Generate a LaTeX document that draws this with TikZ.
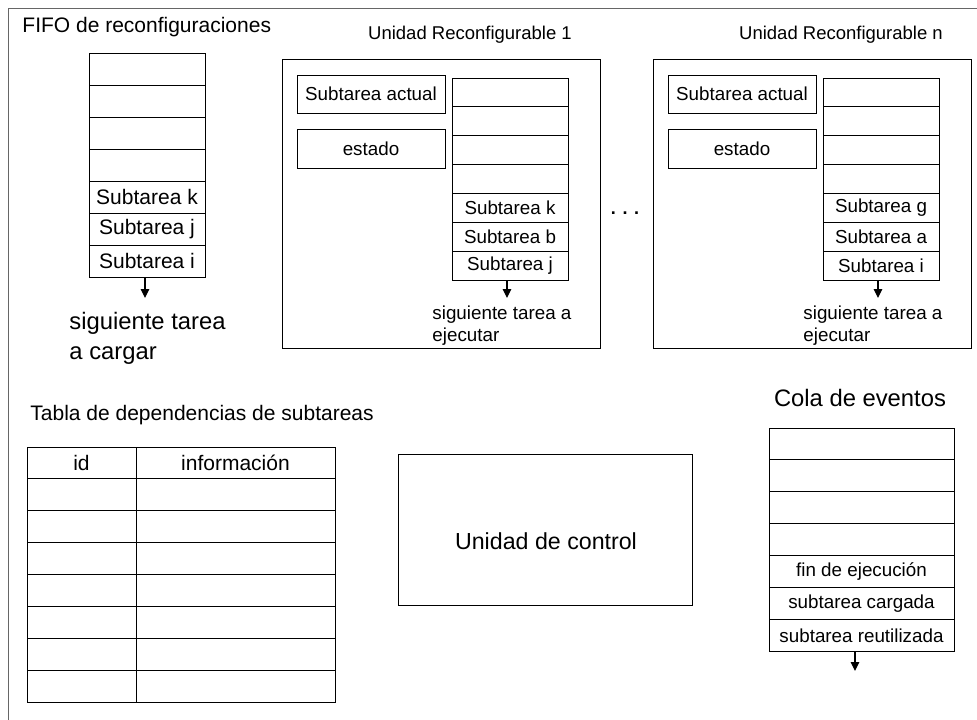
\documentclass[tikz,border=0pt]{standalone}
\usepackage{fontspec}
\setmainfont{Liberation Sans}
\usetikzlibrary{positioning,arrows.meta}

\tikzset{
  celda/.style={draw, inner sep=0pt, minimum width=#1},
  flecha/.style={-{Triangle[length=9pt,width=8.5pt]}, line width=1.1pt},
  chico/.style={font=\fontsize{18.8}{22}\selectfont},
  medio/.style={font=\fontsize{21}{22}\selectfont},
  grande/.style={font=\fontsize{23.8}{30}\selectfont},
}

\begin{document}
\begin{tikzpicture}[x=1pt, y=-1pt, line width=0.9pt]
    \useasboundingbox (0,0) rectangle (977,720);
    % Marco
    \draw[black!60] (8,720) -- (8,8) -- (977,8);

    % FIFO de reconfiguraciones
    \node[medio, anchor=west, inner sep=0pt] (tfifo) at (22,27) {FIFO de reconfiguraciones};
    \foreach \i/\t in {1/,2/,3/,4/,5/Subtarea k,6/Subtarea j,7/Subtarea i}
        \node[celda=116pt, minimum height=32pt, medio] (fifo\i) at (147,{37+32*\i}) {\t};
    \coordinate (fsal) at (145,298);
    \draw[flecha] (fifo7.south -| fsal) -- (fsal);
    \node[grande, align=left, anchor=west, inner sep=0pt] (fcarga) at (69,338) {siguiente tarea\\a cargar};

    % Unidades reconfigurables
    \foreach \u/\dx/\ta/\tb/\tc in {1/0/k/b/j, n/371/g/a/i} {
        \begin{scope}[xshift=\dx]
            \node[font=\fontsize{18.5}{20}\selectfont] (tru\u) at (470,35) {Unidad Reconfigurable \u};
            \node[celda=318pt, minimum height=289pt] (ru\u) at (441,203.5) {};
            \node[celda=148pt, minimum height=38pt, chico] (actual\u) at (371,94) {Subtarea actual};
            \node[celda=148pt, minimum height=39pt, chico] (estado\u) at (371,148.5) {estado};
            \foreach \i/\t in {1/,2/,3/,4/,5/Subtarea \ta,6/Subtarea \tb,7/Subtarea \tc}
                \node[celda=116pt, minimum height=28.9pt, chico] (pila\u\i) at (510,{63.55+28.9*\i}) {\t};
            \coordinate (sal\u) at (507,298);
            \draw[flecha] (pila\u7.south -| sal\u) -- (sal\u);
            \node[chico, align=left, anchor=west, inner sep=0pt] (ejec\u) at (432,326) {siguiente tarea a\\ejecutar};
        \end{scope}
    }
    \node[font=\bfseries\fontsize{18}{18}\selectfont, inner sep=0pt] (puntos) at (625,213) {. . .};

    % Tabla de dependencias
    \node[medio, anchor=west, inner sep=0pt] (ttabla) at (30,415) {Tabla de dependencias de subtareas};
    \node[celda=109pt, minimum height=31.9pt, medio] (id1) at (81.5,462.95) {id};
    \node[celda=199pt, minimum height=31.9pt, medio] (info1) at (235.5,462.95) {información};
    \foreach \i in {2,...,8} {
        \node[celda=109pt, minimum height=31.9pt] (id\i) at (81.5,{431.05+31.9*\i}) {};
        \node[celda=199pt, minimum height=31.9pt] (info\i) at (235.5,{431.05+31.9*\i}) {};
    }

    % Unidad de control
    \node[celda=294pt, minimum height=151pt] (control) at (545,529.5) {};
    \node[font=\fontsize{23.2}{24}\selectfont] (tcontrol) at (546,541) {Unidad de control};

    % Cola de eventos
    \node[grande, inner sep=0pt] (tcola) at (860,398) {Cola de eventos};
    \foreach \i/\t in {1/,2/,3/,4/,5/fin de ejecución,6/subtarea cargada,7/subtarea reutilizada}
        \node[celda=185pt, minimum height=31.9pt, chico] (cola\i) at (861.5,{412.05+31.9*\i}) {\t};
    \coordinate (csal) at (855,671);
    \draw[flecha] (cola7.south -| csal) -- (csal);
\end{tikzpicture}
\end{document}
